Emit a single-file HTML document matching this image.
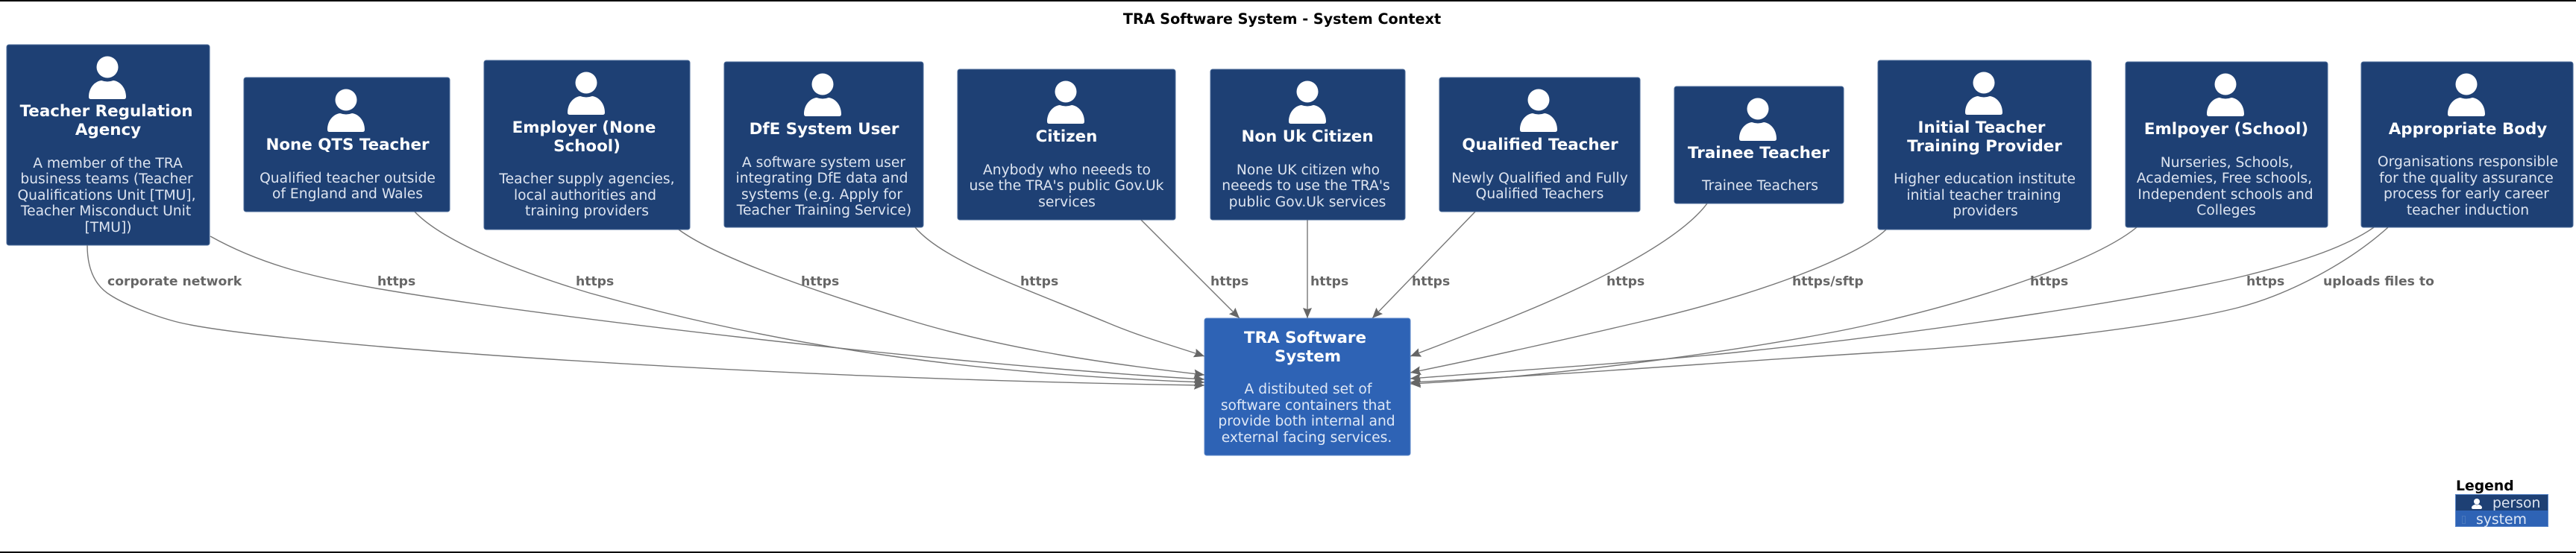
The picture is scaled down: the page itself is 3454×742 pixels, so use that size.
<!DOCTYPE html>
<html><head><meta charset="utf-8"><title>TRA Software System - System Context</title>
<style>
html,body{margin:0;padding:0;background:#fff;width:3454px;height:742px;overflow:hidden}
svg{display:block}
text{font-family:"DejaVu Sans","Liberation Sans",sans-serif}
.t{font-size:21.4px;font-weight:bold;fill:#fff;text-anchor:middle}
.d{font-size:18.7px;fill:#dde4f0;text-anchor:middle}
.l{font-size:17.2px;font-weight:bold;fill:#666}
.e{fill:none;stroke:#777;stroke-width:1.4}
.p{fill:#1e4074;stroke:#4a6a98;stroke-width:1}
</style></head><body>
<svg xmlns="http://www.w3.org/2000/svg" width="3454" height="742" viewBox="0 0 3454 742">
<defs>
<marker id="a" markerUnits="userSpaceOnUse" markerWidth="16" markerHeight="14" refX="15" refY="7" orient="auto"><path d="M1 1L15 7L1 13L3 7Z" fill="#666"/></marker>
<g id="i"><ellipse cx="0" cy="30" rx="14.5" ry="14.5" fill="#fff"/><path d="M-25 70C-25 58-17 49-8 48Q0 51 8 48C17 49 25 58 25 70Q25 73 22 73L-22 73Q-25 73-25 70Z" fill="#fff"/></g>
</defs>
<rect x="0" y="0" width="3454" height="2" fill="#000"/>
<rect x="0" y="740" width="3454" height="2" fill="#000"/>
<text x="1719" y="32" font-size="19.2" font-weight="bold" fill="#000" text-anchor="middle">TRA Software System - System Context</text>

<path class="e" marker-end="url(#a)" d="M117 329C117 365 130 385 148 396C168 409 205 423 230 430C330 460 1000 508 1615 517"/>
<path class="e" marker-end="url(#a)" d="M282 317C350 355 420 372 505 387C700 421 1250 488 1615 509"/>
<path class="e" marker-end="url(#a)" d="M556 284C590 320 680 360 790 393C1000 452 1250 500 1615 513"/>
<path class="e" marker-end="url(#a)" d="M910 308C960 345 1090 390 1214 428C1350 470 1500 490 1615 503"/>
<path class="e" marker-end="url(#a)" d="M1227 305C1265 350 1370 385 1485 433C1530 452 1570 463 1615 478"/>
<path class="e" marker-end="url(#a)" d="M1530 295L1662 427"/>
<path class="e" marker-end="url(#a)" d="M1753 295L1753 427"/>
<path class="e" marker-end="url(#a)" d="M1978 284L1840 427"/>
<path class="e" marker-end="url(#a)" d="M2289 273C2250 325 2130 385 2008 433C1970 448 1930 463 1891 478"/>
<path class="e" marker-end="url(#a)" d="M2529 308C2490 345 2360 395 2199 432C2100 455 2000 478 1891 500"/>
<path class="e" marker-end="url(#a)" d="M2865 305C2810 350 2660 400 2518 433C2390 463 2100 505 1891 515"/>
<path class="e" marker-end="url(#a)" d="M3183 305C3140 335 3070 355 3010 370C2900 397 2600 445 2326 473C2180 488 2030 497 1891 508"/>
<path class="e" marker-end="url(#a)" d="M3202 305C3150 352 3070 395 3000 413C2900 438 2700 462 2518 473C2350 483 2100 503 1891 513"/>

<text class="l" x="144" y="383">corporate network</text>
<text class="l" x="506" y="383">https</text>
<text class="l" x="772" y="383">https</text>
<text class="l" x="1074" y="383">https</text>
<text class="l" x="1368" y="383">https</text>
<text class="l" x="1623" y="383">https</text>
<text class="l" x="1757" y="383">https</text>
<text class="l" x="1893" y="383">https</text>
<text class="l" x="2154" y="383">https</text>
<text class="l" x="2403" y="383">https/sftp</text>
<text class="l" x="2722" y="383">https</text>
<text class="l" x="3012" y="383">https</text>
<text class="l" x="3115" y="383">uploads files to</text>

<!-- Teacher Regulation Agency -->
<rect class="p" x="9" y="60" width="272" height="269" rx="3"/>
<use href="#i" x="144" y="60"/>
<text class="t" x="142.5" y="156">Teacher Regulation</text><text class="t" x="145" y="181">Agency</text>
<text class="d" x="144.5" y="225">A member of the TRA</text><text class="d" x="143" y="246">business teams (Teacher</text><text class="d" x="143" y="268">Qualifications Unit [TMU],</text><text class="d" x="142" y="289">Teacher Misconduct Unit</text><text class="d" x="145" y="311">[TMU])</text>

<!-- None QTS Teacher -->
<rect class="p" x="327" y="104" width="276" height="180" rx="3"/>
<use href="#i" x="464" y="104"/>
<text class="t" x="466" y="201">None QTS Teacher</text>
<text class="d" x="466" y="245">Qualified teacher outside</text><text class="d" x="466" y="266">of England and Wales</text>

<!-- Employer (None School) -->
<rect class="p" x="649" y="81" width="276" height="227" rx="3"/>
<use href="#i" x="786" y="81"/>
<text class="t" x="783" y="178">Employer (None</text><text class="t" x="787" y="203">School)</text>
<text class="d" x="787" y="246">Teacher supply agencies,</text><text class="d" x="784.5" y="268">local authorities and</text><text class="d" x="787" y="289">training providers</text>

<!-- DfE System User -->
<rect class="p" x="971" y="83" width="267" height="222" rx="3"/>
<use href="#i" x="1103" y="83"/>
<text class="t" x="1105" y="180">DfE System User</text>
<text class="d" x="1104.5" y="224">A software system user</text><text class="d" x="1102" y="245">integrating DfE data and</text><text class="d" x="1102" y="267">systems (e.g. Apply for</text><text class="d" x="1105" y="288">Teacher Training Service)</text>

<!-- Citizen -->
<rect class="p" x="1284" y="93" width="292" height="202" rx="3"/>
<use href="#i" x="1429" y="93"/>
<text class="t" x="1430" y="190">Citizen</text>
<text class="d" x="1430.5" y="234">Anybody who neeeds to</text><text class="d" x="1430" y="255">use the TRA's public Gov.Uk</text><text class="d" x="1430.5" y="277">services</text>

<!-- Non Uk Citizen -->
<rect class="p" x="1623" y="93" width="261" height="202" rx="3"/>
<use href="#i" x="1753" y="93"/>
<text class="t" x="1753" y="190">Non Uk Citizen</text>
<text class="d" x="1754" y="234">None UK citizen who</text><text class="d" x="1751" y="255">neeeds to use the TRA's</text><text class="d" x="1753" y="277">public Gov.Uk services</text>

<!-- Qualified Teacher -->
<rect class="p" x="1930" y="104" width="269" height="180" rx="3"/>
<use href="#i" x="2063" y="104"/>
<text class="t" x="2065" y="201">Qualified Teacher</text>
<text class="d" x="2064.5" y="245">Newly Qualified and Fully</text><text class="d" x="2064.5" y="266">Qualified Teachers</text>

<!-- Trainee Teacher -->
<rect class="p" x="2245" y="116" width="227" height="157" rx="3"/>
<use href="#i" x="2357" y="116"/>
<text class="t" x="2358" y="212">Trainee Teacher</text>
<text class="d" x="2360" y="255">Trainee Teachers</text>

<!-- Initial Teacher Training Provider -->
<rect class="p" x="2518" y="81" width="286" height="227" rx="3"/>
<use href="#i" x="2660" y="81"/>
<text class="t" x="2657" y="178">Initial Teacher</text><text class="t" x="2661" y="203">Training Provider</text>
<text class="d" x="2661" y="246">Higher education institute</text><text class="d" x="2660" y="268">initial teacher training</text><text class="d" x="2662" y="289">providers</text>

<!-- Emlpoyer (School) -->
<rect class="p" x="2850" y="83" width="271" height="222" rx="3"/>
<use href="#i" x="2984" y="83"/>
<text class="t" x="2985" y="180">Emlpoyer (School)</text>
<text class="d" x="2986" y="224">Nurseries, Schools,</text><text class="d" x="2982.5" y="245">Academies, Free schools,</text><text class="d" x="2984" y="267">Independent schools and</text><text class="d" x="2985" y="288">Colleges</text>

<!-- Appropriate Body -->
<rect class="p" x="3166" y="83" width="284" height="222" rx="3"/>
<use href="#i" x="3307" y="83"/>
<text class="t" x="3309" y="180">Appropriate Body</text>
<text class="d" x="3309" y="223">Organisations responsible</text><text class="d" x="3307" y="245">for the quality assurance</text><text class="d" x="3307" y="266">process for early career</text><text class="d" x="3309" y="288">teacher induction</text>

<!-- TRA Software System -->
<rect x="1615" y="427" width="276" height="184" rx="3" fill="#2e63b5" stroke="#5a86c8" stroke-width="1"/>
<text class="t" x="1750" y="460">TRA Software</text><text class="t" x="1753.5" y="485">System</text>
<text class="d" x="1754" y="528" style="fill:#dfe8f6">A distibuted set of</text><text class="d" x="1751" y="550" style="fill:#dfe8f6">software containers that</text><text class="d" x="1752" y="571" style="fill:#dfe8f6">provide both internal and</text><text class="d" x="1752" y="593" style="fill:#dfe8f6">external facing services.</text>

<!-- Legend -->
<text x="3293" y="658" font-size="18.8" font-weight="bold" fill="#000">Legend</text>
<rect x="3292" y="663" width="125" height="22" fill="#1e4074"/>
<rect x="3292" y="685" width="125" height="22" fill="#2e63b5"/>
<rect x="3292.5" y="663.5" width="124" height="43" fill="none" stroke="#5a86c8" stroke-width="1"/>
<circle cx="3321" cy="673" r="4" fill="#fff"/>
<path d="M3314 681C3314 679 3317 677 3319 677Q3321 678 3323 677C3325 677 3328 679 3328 681Q3328 683 3326 683L3316 683Q3314 683 3314 681Z" fill="#fff"/>
<text x="3342" y="681" font-size="18.8" fill="#dde4f0">person</text>
<rect x="3301.5" y="692.5" width="4" height="10" fill="none" stroke="#4a78bd" stroke-width="1"/>
<text x="3320" y="703" font-size="18.8" fill="#dfe8f6">system</text>
</svg>
</body></html>
